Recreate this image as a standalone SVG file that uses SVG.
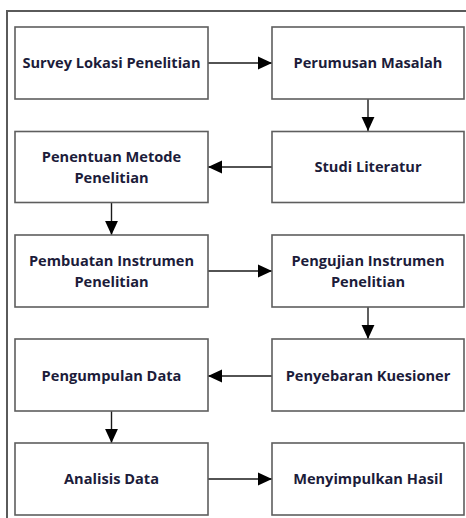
<svg xmlns="http://www.w3.org/2000/svg" width="466" height="518" viewBox="0 0 466 518">
<defs>
<style>
.box{fill:#fff;stroke:#5e5e5e;stroke-width:1.6}
.t{font-family:"Open Sans","Noto Sans",sans-serif;font-weight:bold;font-size:14.6px;fill:#1c1c3a;text-anchor:middle}
.c{stroke:#1a1a1a;stroke-width:1.4;fill:none;marker-end:url(#ah)}
.frame{stroke:#5a5a5a;stroke-width:2;fill:none}
</style>
<marker id="ah" markerUnits="userSpaceOnUse" markerWidth="14" markerHeight="14" viewBox="0 0 12 12" refX="12" refY="6" orient="auto">
<path d="M0,0.5 L12,6 L0,11.5 Z" fill="#000"/>
</marker>
</defs>
<path class="frame" d="M7,518 V11 H466"/>
<g id="connectors">
<line class="c" x1="208" y1="63" x2="272" y2="63"/>
<line class="c" x1="368" y1="99" x2="368" y2="131"/>
<line class="c" x1="272" y1="167" x2="208" y2="167"/>
<line class="c" x1="111.5" y1="203" x2="111.5" y2="235"/>
<line class="c" x1="208" y1="271" x2="272" y2="271"/>
<line class="c" x1="368" y1="307" x2="368" y2="339"/>
<line class="c" x1="272" y1="376" x2="208" y2="376"/>
<line class="c" x1="111.5" y1="411" x2="111.5" y2="443"/>
<line class="c" x1="208" y1="479" x2="272" y2="479"/>
</g>
<g id="n1"><rect class="box" x="15" y="27" width="193" height="72"/><text class="t" x="111.5" y="68">Survey Lokasi Penelitian</text></g>
<g id="n2"><rect class="box" x="272" y="27" width="192" height="72"/><text class="t" x="368" y="68">Perumusan Masalah</text></g>
<g id="n3"><rect class="box" x="272" y="131.5" width="192" height="71"/><text class="t" x="368" y="172">Studi Literatur</text></g>
<g id="n4"><rect class="box" x="15" y="131.5" width="193" height="71"/><text class="t" x="111.5" y="162">Penentuan Metode</text><text class="t" x="111.5" y="183">Penelitian</text></g>
<g id="n5"><rect class="box" x="15" y="235" width="193" height="72"/><text class="t" x="111.5" y="266">Pembuatan Instrumen</text><text class="t" x="111.5" y="287">Penelitian</text></g>
<g id="n6"><rect class="box" x="272" y="235" width="192" height="72"/><text class="t" x="368" y="266">Pengujian Instrumen</text><text class="t" x="368" y="287">Penelitian</text></g>
<g id="n7"><rect class="box" x="272" y="339" width="192" height="72"/><text class="t" x="368" y="381">Penyebaran Kuesioner</text></g>
<g id="n8"><rect class="box" x="15" y="339" width="193" height="72"/><text class="t" x="111.5" y="381">Pengumpulan Data</text></g>
<g id="n9"><rect class="box" x="15" y="443" width="193" height="72"/><text class="t" x="111.5" y="484">Analisis Data</text></g>
<g id="n10"><rect class="box" x="272" y="443" width="192" height="72"/><text class="t" x="368" y="484">Menyimpulkan Hasil</text></g>
</svg>
